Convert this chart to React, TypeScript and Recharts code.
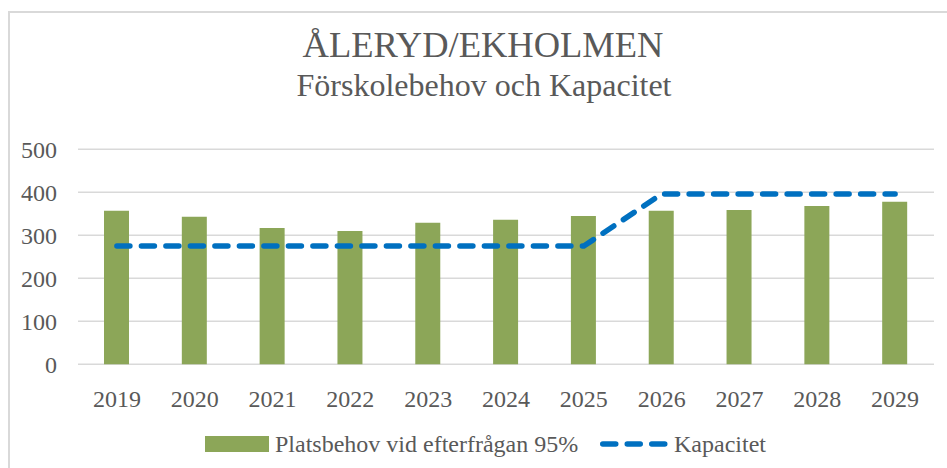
import React from 'react';
import { ComposedChart, Bar, Line, XAxis, YAxis, CartesianGrid } from 'recharts';

const years = ['2019', '2020', '2021', '2022', '2023', '2024', '2025', '2026', '2027', '2028', '2029'];
const platsbehov = [357, 343, 317, 310, 329, 336, 345, 357, 359, 368, 378];
const kapacitet = [275, 275, 275, 275, 275, 275, 275, 396, 396, 396, 396];
const yTicks = [0, 100, 200, 300, 400, 500];

const title = 'ÅLERYD/EKHOLMEN';
const subtitle = 'Förskolebehov och Kapacitet';
const barName = 'Platsbehov vid efterfrågan 95%';
const lineName = 'Kapacitet';

const font = "'Liberation Serif', 'Times New Roman', Times, serif";
const textColor = '#595959';
const gridColor = '#d9d9d9';
const barColor = '#8ca658';
const lineColor = '#0070c0';

const W = 937;
const H = 455;

const data = years.map((y, i) => ({ year: y, behov: platsbehov[i], kap: kapacitet[i] }));

const txt = (size: number): React.CSSProperties => ({ fontFamily: font, fontSize: size, fill: textColor });

// tick text placed by hand so the baseline lines up like in Excel
const YTick = (props: any) => {
    const { x, y, payload } = props;
    return (
        <text x={x - 21} y={y + 8.5} textAnchor="end" style={txt(24)}>
            {payload.value}
        </text>
    );
};

const XTick = (props: any) => {
    const { x, y, payload } = props;
    return (
        <text x={x} y={y + 42.5} textAnchor="middle" style={txt(24)}>
            {payload.value}
        </text>
    );
};

const App: React.FC = () => {
    return (
        <div
            style={{
                position: 'absolute',
                left: 8,
                top: 11,
                width: 939,
                height: 457,
                borderTop: `2px solid ${gridColor}`,
                borderLeft: `2px solid ${gridColor}`,
                boxSizing: 'border-box',
                overflow: 'hidden',
                background: '#fff',
                fontFamily: font,
            }}
        >
            <ComposedChart
                width={W}
                height={H}
                data={data}
                margin={{ top: 136.3, right: 13, bottom: 63.7, left: 0 }}
                barCategoryGap={0}
            >
                <CartesianGrid vertical={false} stroke={gridColor} strokeWidth={1.5} />
                <XAxis
                    dataKey="year"
                    height={40}
                    axisLine={false}
                    tickLine={false}
                    tickSize={0}
                    tickMargin={0}
                    tick={<XTick />}
                    interval={0}
                />
                <YAxis
                    width={68}
                    domain={[0, 500]}
                    ticks={yTicks}
                    axisLine={false}
                    tickLine={false}
                    tickSize={0}
                    tickMargin={0}
                    tick={<YTick />}
                />
                <Bar dataKey="behov" name={barName} fill={barColor} barSize={25} isAnimationActive={false} />
                <Line
                    type="linear"
                    dataKey="kap"
                    name={lineName}
                    stroke={lineColor}
                    strokeWidth={5.5}
                    strokeDasharray="13 11.5"
                    strokeLinecap="round"
                    dot={false}
                    activeDot={false}
                    isAnimationActive={false}
                />
            </ComposedChart>
            <svg width={W} height={H} style={{ position: 'absolute', left: 0, top: 0, pointerEvents: 'none' }}>
                <text x={473} y={44} textAnchor="middle" style={txt(36.5)}>
                    {title}
                </text>
                <text x={474} y={83} textAnchor="middle" style={txt(32)}>
                    {subtitle}
                </text>
                <rect x={195} y={423} width={64} height={16} fill={barColor} />
                <text x={265} y={438.5} style={txt(24)}>
                    {barName}
                </text>
                <line
                    x1={592.75}
                    y1={431}
                    x2={654.75}
                    y2={431}
                    stroke={lineColor}
                    strokeWidth={5.5}
                    strokeDasharray="13 11.5"
                    strokeLinecap="round"
                />
                <text x={664} y={438.5} style={txt(24)}>
                    {lineName}
                </text>
            </svg>
        </div>
    );
};

export default App;
